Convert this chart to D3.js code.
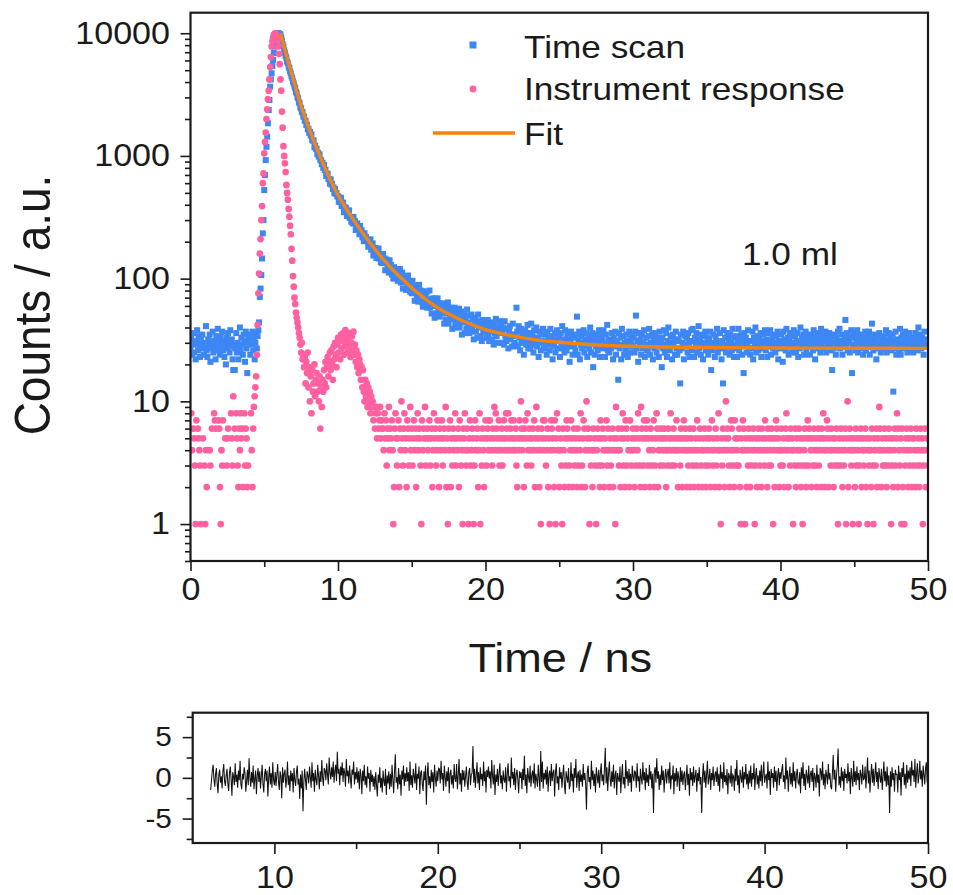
<!DOCTYPE html>
<html>
<head>
<meta charset="utf-8">
<script src="https://cdn.jsdelivr.net/npm/d3@7"></script>
<style>
  html, body { margin: 0; padding: 0; background: #fff; }
  svg { display: block; }
  text { font-family: "Liberation Sans", Arial, Helvetica, sans-serif; fill: #1a1a1a; }
</style>
</head>
<body>
<svg id="chart" width="953" height="895"></svg>
<script>
// ---- Decay trace (time scan), counts per 0.05 ns channel from 0 ns ----
const scanStart = 0, scanStep = 0.05;
const scanCounts = [
  27, 33, 24, 30, 36, 25, 29, 22, 31, 38, 26, 34, 29, 23, 32, 27, 35, 30, 24, 28,
  28, 41, 26, 23, 32, 29, 35, 21, 27, 30, 37, 25, 31, 28, 22, 34, 26, 39, 29, 32,
  24, 34, 28, 37, 26, 31, 23, 29, 20, 33, 27, 36, 30, 25, 38, 28, 32, 22, 18, 29,
  18, 27, 36, 25, 30, 22, 28, 40, 26, 33, 29, 24, 35, 31, 21, 37, 27, 17, 30, 34,
  31, 24, 35, 29, 37, 26, 33, 22, 30, 36, 27, 34,
  38, 44, 71, 83, 107, 146, 234, 300, 527, 699, 925, 1188, 1436, 1844, 2367,
  2857, 3666, 4200, 4720, 5400, 6054, 6900, 7780, 8600, 9380, 9800, 10000, 10000, 9950, 9850,
  9700, 9250, 8700, 8150, 7800, 7250, 6950, 6550, 6300, 5900, 5700, 5350, 5200, 4900, 4700, 4450, 4300, 4050, 3900, 3680,
  3560, 3330, 3240, 3020, 2950, 2740, 2680, 2490, 2440, 2290, 2260, 2100, 2090, 1940, 1930, 1790, 1790, 1650,
  1667, 1541, 1573, 1465, 1494, 1345, 1338, 1332, 1179, 1213, 1145, 1144, 1033, 1061, 987, 1029, 932, 920, 857, 882,
  800, 843, 767, 774, 686, 719, 712, 648, 648, 594, 644, 586, 591, 538, 553, 498, 537, 492, 499, 469,
  469, 423, 459, 420, 455, 390, 402, 417, 348, 383, 361, 375, 324, 353, 322, 360, 313, 318, 291, 319,
  283, 318, 281, 294, 249, 278, 282, 250, 258, 230, 269, 239, 248, 217, 234, 202, 234, 207, 218, 203,
  206, 182, 207, 185, 209, 172, 182, 194, 154, 178, 166, 177, 147, 167, 150, 176, 146, 152, 136, 157,
  134, 159, 136, 146, 117, 138, 143, 122, 129, 112, 141, 121, 129, 108, 122, 100, 124, 107, 116, 106,
  112, 96, 114, 101, 120, 93, 102, 112, 83, 102, 94, 104, 81, 98, 85, 106, 84, 89, 78, 94,
  76, 96, 79, 88, 66, 83, 88, 72, 79, 65, 89, 73, 80, 65, 76, 59, 79, 66, 74, 66,
  77, 58, 67, 61, 80, 58, 68, 52, 69, 60, 65, 48, 69, 60, 52, 69, 54, 63, 49, 58,
  54, 60, 52, 63, 43, 57, 46, 59, 52, 64, 43, 53, 47, 58, 53, 39, 54, 47, 58, 43,
  50, 40, 53, 44, 57, 40, 47, 54, 35, 49, 44, 51, 36, 48, 39, 56, 40, 44, 36, 50,
  37, 51, 40, 47, 32, 44, 48, 37, 42, 33, 51, 40, 45, 34, 43, 31, 46, 37, 42, 37,
  43, 33, 39, 46, 35, 31, 41, 37, 44, 32, 38, 29, 42, 36, 47, 34, 40, 30, 37, 45,
  38, 42, 30, 36, 40, 29, 45, 34, 31, 39, 33, 27, 37, 41, 32, 35, 28, 43, 34, 30,
  35, 29, 58, 37, 28, 41, 33, 26, 39, 31, 36, 30, 24, 34, 38, 29, 32, 42, 27, 35,
  36, 27, 43, 30, 34, 25, 38, 32, 29, 40, 28, 33, 23, 37, 31, 26, 35, 30, 39, 27,
  27, 35, 31, 24, 37, 29, 33, 26, 39, 30, 34, 22, 32, 28, 36, 25, 31, 38, 27, 33,
  34, 23, 36, 29, 41, 27, 32, 25, 38, 30, 26, 35, 28, 33, 21, 31, 37, 29, 24, 34,
  28, 33, 26, 35, 49, 24, 31, 37, 22, 29, 34, 27, 30, 38, 25, 32, 28, 36, 23, 31,
  34, 27, 40, 25, 31, 36, 19, 33, 24, 30, 28, 35, 26, 32, 38, 23, 29, 34, 27, 31,
  38, 28, 23, 35, 29, 42, 26, 32, 25, 31, 27, 36, 30, 22, 33, 28, 37, 24, 31, 29,
  15, 36, 27, 33, 22, 39, 29, 34, 24, 30, 26, 35, 31, 23, 28, 37, 25, 32, 29, 34,
  28, 33, 25, 37, 50, 27, 31, 21, 36, 29, 32, 24, 35, 27, 30, 38, 23, 29, 33, 26,
  26, 34, 39, 24, 30, 28, 35, 22, 32, 27, 36, 29, 25, 33, 31, 23, 37, 28, 30, 19,
  33, 27, 38, 25, 29, 36, 23, 31, 40, 28, 26, 34, 30, 22, 35, 29, 32, 24, 37, 27,
  24, 32, 31, 26, 14, 35, 27, 30, 37, 22, 29, 34, 28, 33, 25, 36, 30, 23, 31, 38,
  26, 39, 31, 23, 33, 28, 36, 25, 30, 41, 27, 32, 24, 35, 29, 22, 34, 30, 37, 26,
  27, 33, 24, 32, 29, 37, 18, 26, 30, 35, 28, 23, 34, 31, 39, 25, 30, 27, 36, 29,
  22, 31, 14, 38, 27, 33, 25, 29, 36, 28, 32, 24, 35, 30, 26, 39, 29, 23, 33, 27,
  34, 23, 30, 39, 26, 32, 28, 35, 24, 31, 17, 36, 29, 33, 25, 30, 38, 27, 31, 24,
  31, 27, 37, 22, 33, 29, 40, 25, 30, 34, 26, 32, 28, 36, 23, 31, 35, 27, 30, 38,
  26, 32, 23, 36, 28, 31, 38, 24, 29, 33, 27, 35, 30, 25, 34, 28, 37, 22, 31, 29,
  27, 35, 30, 21, 37, 28, 32, 26, 39, 29, 33, 24, 31, 36, 28, 25, 34, 30, 38, 27,
  34, 25, 31, 36, 23, 30, 27, 40, 28, 33, 29, 35, 24, 32, 37, 26, 30, 28, 34, 31,
  24, 35, 29, 32, 26, 38, 30, 22, 34, 27, 31, 36, 28, 33, 25, 39, 29, 32, 27, 35,
  31, 37, 25, 33, 28, 30, 36, 29, 32, 26, 18, 34, 27, 35, 30, 24, 33, 28, 37, 31,
  39, 27, 30, 35, 24, 31, 28, 33, 46, 29, 36, 26, 32, 30, 25, 34, 38, 17, 28, 33,
  29, 36, 26, 32, 38, 25, 30, 34, 27, 31, 35, 28, 24, 33, 30, 37, 26, 32, 29, 34,
  37, 24, 30, 29, 43, 33, 26, 35, 28, 31, 22, 34, 30, 27, 36, 29, 25, 33, 31, 28,
  34, 27, 30, 38, 25, 32, 29, 36, 28, 33, 26, 31, 35, 12, 30, 27, 37, 24, 32, 29,
  31, 26, 39, 24, 33, 29, 35, 27, 30, 37, 28, 32, 25, 34, 30, 36, 26, 31, 29, 33,
  25, 32, 28, 36, 30, 34, 26, 40, 29, 31, 35, 27, 33, 30, 24, 37, 28, 32, 29, 31,
  30
];

// ---- Instrument response, counts per 0.05 ns channel from 0 ns (zero counts are not drawn on the log axis) ----
const irfStart = 0, irfStep = 0.05;
const irfCounts = [
  0, 8, 4, 0, 6, 5, 3, 1, 7, 0,
  6, 5, 4, 3, 1, 0, 0, 5, 0, 3,
  1, 4, 2, 0, 0, 0, 4, 3, 0, 6,
  0, 0, 8, 7, 6, 0, 0, 0, 7, 6,
  2, 1, 4, 3, 7, 0, 0, 5, 0, 3,
  5, 6, 0, 0, 0, 8, 5, 3, 11, 0,
  6, 0, 8, 5, 3, 2, 6, 4, 8, 5,
  6, 2, 0, 8, 3, 6, 5, 2, 3, 0,
  0, 0, 8, 4, 2, 6, 9,
  11, 13, 16, 24, 42, 76, 110, 160, 210, 300, 390, 600, 720, 1050,
  1300, 1550, 2000, 2400, 2900, 3400, 4200, 5300, 6400, 7800,
  8600, 9200, 9700, 9900, 10000, 9800, 9600,
  8800, 7800, 6800, 5600, 4200, 3400, 2300, 1700, 1200, 1000,
  870, 740, 580, 500, 440, 370, 320, 270, 230, 175,
  140, 105, 86, 70, 62, 53, 48, 44, 40, 36,
  33, 29, 25, 30, 22, 24, 19,
  23, 14, 21, 17, 25, 13, 19, 10, 16, 8,
  18, 12, 14, 20, 11, 15, 17, 12, 14, 10,
  16, 6, 13, 9, 15, 12, 18, 14, 21, 13,
  19, 23, 16, 21, 25, 18, 26, 20, 15, 28,
  22, 30, 24, 19, 29, 33, 25, 31, 22, 35,
  27, 32, 36, 24, 30, 38, 28, 33, 25, 31,
  36, 27, 23, 30, 34, 26, 37, 24, 29, 21,
  26, 19, 24, 17, 22, 20, 15, 19, 13, 18,
  12, 10, 15, 11, 14, 9, 13, 10, 12, 8,
  11, 9, 10, 7, 9, 6, 8, 9, 5, 8,
  6, 7, 9, 5, 7, 6,
  6, 4, 8, 5, 7, 3, 6, 5, 9, 4, 6, 5, 7, 4, 1, 2, 6, 8, 5, 3,
  5, 7, 2, 6, 4, 10, 5, 3, 6, 8, 4, 5, 2, 7, 6, 3, 5, 9, 4, 6,
  3, 5, 7, 4, 6, 2, 5, 8, 4, 6, 5, 3, 1, 7, 4, 6, 5, 9, 3, 5,
  6, 4, 5, 7, 3, 5, 6, 2, 4, 8, 5, 6, 3, 4, 7, 5, 2, 6, 4, 5,
  7, 3, 5, 6, 4, 9, 2, 5, 1, 6, 4, 7, 2, 5, 3, 6, 4, 5, 8, 3,
  5, 4, 6, 2, 7, 5, 3, 4, 1, 6, 5, 8, 4, 3, 6, 4, 1, 5, 7, 3,
  4, 6, 5, 1, 3, 7, 4, 5, 6, 2, 4, 8, 1, 5, 3, 6, 4, 2, 5, 7,
  3, 5, 6, 4, 7, 7, 5, 4, 3, 6, 5, 9, 4, 8, 6, 5, 4, 7, 3, 5,
  4, 6, 3, 5, 7, 4, 5, 8, 6, 4, 8, 5, 4, 6, 7, 5, 4, 7, 5, 4,
  6, 3, 2, 5, 4, 7, 5, 10, 6, 4, 5, 2, 6, 7, 5, 3, 8, 4, 6, 5,
  4, 3, 5, 6, 4, 7, 2, 5, 9, 4, 6, 5, 2, 4, 1, 6, 5, 7, 4, 7,
  5, 3, 4, 6, 2, 5, 1, 4, 7, 6, 5, 4, 2, 7, 1, 5, 8, 4, 6, 2,
  4, 5, 3, 1, 6, 4, 2, 5, 3, 7, 6, 5, 2, 3, 4, 7, 5, 2, 4, 6,
  3, 5, 4, 2, 6, 3, 5, 4, 8, 2, 3, 5, 7, 6, 2, 4, 10, 5, 6, 4,
  1, 5, 3, 4, 2, 6, 4, 5, 3, 1, 4, 6, 5, 3, 2, 7, 5, 3, 6, 4,
  2, 5, 4, 7, 3, 6, 4, 2, 5, 3, 4, 6, 2, 5, 4, 1, 9, 5, 4, 6,
  3, 4, 2, 5, 6, 8, 3, 5, 2, 7, 6, 3, 5, 4, 2, 7, 4, 3, 5, 6,
  4, 2, 5, 3, 6, 4, 8, 5, 3, 2, 9, 6, 5, 3, 7, 2, 5, 6, 7, 3,
  5, 4, 2, 6, 3, 5, 4, 7, 2, 3, 5, 8, 6, 2, 4, 5, 3, 6, 4, 5,
  3, 6, 4, 5, 2, 4, 3, 6, 5, 4, 8, 3, 5, 4, 6, 3, 4, 5, 7, 4,
  2, 5, 4, 3, 6, 5, 2, 4, 7, 5, 6, 4, 2, 5, 3, 4, 6, 2, 5, 4,
  3, 6, 2, 4, 5, 3, 7, 4, 2, 5, 6, 3, 4, 2, 5, 4, 6, 3, 2, 5,
  4, 3, 6, 5, 2, 4, 7, 3, 5, 4, 2, 6, 3, 5, 4, 8, 2, 4, 1, 5,
  3, 6, 4, 2, 5, 10, 4, 6, 5, 3, 2, 4, 7, 6, 3, 4, 2, 7, 5, 3,
  4, 5, 3, 6, 2, 1, 5, 4, 7, 6, 4, 1, 5, 2, 4, 3, 6, 5, 2, 4,
  3, 5, 6, 4, 1, 3, 5, 2, 4, 6, 5, 3, 4, 2, 6, 5, 4, 3, 7, 5,
  4, 2, 6, 3, 5, 4, 3, 6, 5, 1, 4, 2, 5, 7, 6, 4, 5, 2, 4, 3,
  6, 4, 3, 5, 2, 4, 6, 8, 5, 4, 2, 5, 3, 6, 4, 5, 1, 4, 3, 6,
  2, 5, 4, 3, 6, 4, 5, 2, 3, 1, 5, 4, 6, 3, 2, 5, 7, 3, 6, 5,
  4, 2, 5, 3, 6, 4, 3, 5, 2, 4, 6, 3, 5, 4, 2, 6, 5, 8, 4, 2,
  5, 4, 7, 6, 2, 5, 4, 3, 6, 4, 5, 2, 3, 5, 4, 6, 3, 1, 4, 5,
  3, 6, 4, 2, 5, 3, 4, 6, 1, 5, 10, 2, 4, 6, 5, 3, 4, 1, 5, 4,
  2, 6, 3, 5, 4, 1, 3, 5, 6, 2, 4, 5, 3, 4, 6, 2, 5, 1, 4, 3,
  5, 4, 2, 6, 3, 1, 5, 4, 3, 6, 2, 5, 4, 9, 6, 4, 2, 5, 3, 4,
  6, 3, 5, 2, 4, 3, 6, 5, 4, 1, 3, 5, 2, 4, 6, 3, 5, 8, 2, 6,
  4, 3, 5, 1, 6, 2, 4, 1, 3, 5, 6, 4, 2, 5, 3, 4, 6, 2, 5, 3,
  5, 4, 2, 6, 3, 4, 5, 2, 3, 6, 4, 5, 1, 3, 4, 6, 2, 5, 4, 3
];

// ---- Fitted decay curve (knots) ----
const fitTime = [6.1, 6.5, 7.0, 7.5, 8.0, 8.5, 9.0, 9.5, 10, 10.5, 11, 11.5, 12, 12.5, 13, 13.5,
                 14, 14.5, 15, 15.5, 16, 17, 18, 19, 20, 21, 22, 23, 24, 25, 27, 30, 35, 40, 45, 50];
const fitCounts = [10000, 6600, 4100, 2550, 1720, 1200, 860, 630, 480, 380, 308, 252, 208, 174, 147, 126,
                   109, 96, 84, 75, 67, 55.5, 48, 42.5, 38.5, 35.8, 33.8, 32.3, 31.1, 30.3, 29.1, 28.1, 27.5, 27.2, 27.1, 27.0];

// ---- Weighted residuals, 0.05 ns channels from 6.1 ns ----
const residStart = 6.1, residStep = 0.05;
const residuals = [
  -1.5, -0.3, 0.9, 1.6, -0.2, -1.1, 0.5, 1.2, -0.8, -1.9, 0.4, 1.0, -0.6, 0.2, -1.3, 0.8, 1.7, -0.4, -1.0, 0.3,
  1.1, -0.7, -1.6, 0.6, 1.4, -0.1, -2.2, 0.7, 0.2, -0.9, 1.8, -0.5, 0.4, -1.2, 0.9, -0.3, 2.1, -0.8, -1.4, 0.5,
  -0.2, 1.3, 0.6, -1.7, -0.4, 1.0, -0.9, 2.4, 0.1, -1.1, 0.7, -0.6, 1.5, -1.4, -0.1, 0.9, -2.0, 0.3, 1.2, -0.5,
  0.8, -1.3, 0.2, 1.6, -0.7, -1.8, 0.5, 1.1, -0.4, 0.9, -2.3, 0.0, 1.4, -0.8, 0.6, -1.2, 1.9, -0.3, -0.9, 0.7,
  -1.0, 0.4, 1.7, -0.5, -1.5, 0.8, 0.2, -2.5, 1.3, -0.6, 0.5, 1.0, -1.2, -0.2, 2.0, -0.9, 0.3, -1.6, 0.9, -0.4,
  0.6, -1.8, 1.2, -0.3, -1.0, 0.7, 1.5, -0.8, -0.1, -2.6, 0.4, -1.3, 0.9, -4.1, -0.6, 1.1, -0.2, -1.5, 0.8, 0.3,
  -0.7, 1.4, 0.1, -1.2, 1.9, -0.4, 0.6, -1.7, 1.0, -0.2, -0.9, 1.6, 0.3, -1.4, 0.8, -0.5, 2.2, 0.0, -1.0, 1.2,
  0.9, -0.3, 1.8, 0.4, -0.8, 2.5, 0.7, -0.2, 1.3, 0.1, 2.0, -0.6, 0.8, 1.6, -0.4, 3.2, 0.5, 1.1, -0.9, 1.4,
  0.3, 1.9, -0.5, 1.2, 0.6, -1.1, 2.3, 0.2, 0.9, -0.7, 1.5, 0.0, -1.3, 1.0, 0.4, 2.0, -0.8, 0.7, -0.2, 1.3,
  -0.6, 0.8, -1.4, 1.1, 0.3, -2.0, 0.9, -0.4, 1.6, -0.9, 0.2, -1.2, 1.4, -0.1, 0.6, -1.7, 1.0, -0.5, 0.4, -1.1,
  0.2, -1.5, 0.7, -0.9, -2.3, 0.4, -0.6, 1.3, -1.2, 0.0, -1.8, 0.9, -0.4, -1.0, 1.1, -2.1, 0.3, -0.7, 0.8, -1.4,
  0.5, -1.1, 1.6, -0.3, -1.9, 0.8, 2.9, -0.6, 0.1, -1.4, 1.2, -0.8, 0.4, -2.2, 0.9, -0.2, 1.5, -1.0, 0.6, -0.5,
  1.3, -0.4, 0.7, -1.6, 2.0, -0.9, 0.3, -1.2, 1.1, 0.2, -0.7, 1.8, -1.5, 0.5, -0.1, 1.4, -2.0, 0.6, 0.9, -0.8,
  -1.6, 0.8, -0.3, 1.5, -3.3, 0.4, 1.9, -0.9, 0.2, -1.3, 1.0, -0.5, 0.7, -1.8, 1.6, 0.0, -1.1, 0.9, -0.4, 1.2,
  1.1, -0.7, 2.1, -0.2, 0.6, -1.6, 1.5, 0.1, -1.1, 0.8, -0.4, 1.3, -1.9, 0.5, 1.0, -0.8, 0.3, -1.3, 1.7, -0.1,
  -0.5, 1.7, -1.4, 0.3, 2.3, -0.8, 0.6, -1.7, 1.0, -0.3, 0.9, -1.1, 0.2, 1.4, -0.6, -1.5, 0.7, 1.2, -0.9, 0.4,
  0.6, 3.9, -0.6, 1.1, -1.2, 0.3, 1.9, -0.7, 0.7, -1.5, 1.3, -0.2, 0.5, -1.0, 2.0, -0.4, 0.8, -1.8, 1.0, 0.1,
  1.4, -0.1, 0.8, -1.3, 2.2, 0.2, -0.8, 1.6, -2.1, 0.4, -0.5, 1.1, -1.0, 0.6, 1.8, -0.7, 0.3, -1.4, 0.9, -0.2,
  -0.6, 1.3, -1.7, 0.5, 1.8, -0.4, 0.2, -1.2, 2.5, -0.1, 0.7, -0.9, 1.2, -1.5, 0.4, 1.0, -0.3, -1.9, 0.8, 0.0,
  0.7, -1.4, 1.1, -0.3, 2.7, -1.0, 0.4, -1.9, 1.2, 0.1, -0.6, 1.5, -1.1, 0.3, 0.9, -0.7, 1.8, -1.3, 0.5, -0.2,
  -1.1, 1.6, 0.0, -1.6, 3.3, -0.5, 2.0, -1.3, 0.6, -0.2, 1.0, -0.8, 1.4, -1.7, 0.4, 0.9, -1.0, 1.7, -0.4, 0.6,
  1.0, -2.3, 0.6, 1.8, -0.7, 0.2, -1.5, 1.3, -0.1, 0.7, -1.2, 0.4, 1.6, -0.9, -2.0, 0.8, 0.1, -0.6, 1.2, -1.4,
  -0.9, 1.9, -0.4, 0.5, -1.8, 1.2, 0.0, 2.3, -1.2, 0.3, 0.8, -1.6, 1.0, -0.5, 0.4, -1.1, 1.7, -0.3, 0.6, -0.8,
  -3.9, 0.8, 1.5, -0.5, 0.1, -1.4, 2.1, -0.3, 0.9, -1.0, 0.5, -1.8, 1.3, 0.2, -0.7, 1.0, -1.2, 0.6, 1.8, -0.4,
  0.4, -0.9, 1.2, 3.7, -0.7, 1.3, -1.6, 0.5, 2.0, -0.2, -1.1, 0.8, -0.5, 1.6, -1.3, 0.3, 0.9, -2.1, 0.6, -0.1,
  -0.5, 1.4, -1.9, 0.3, 1.7, -0.8, 0.1, -1.3, 2.2, -0.1, 0.8, -1.0, 1.1, -0.6, 0.5, -1.7, 1.5, 0.2, -0.4, 0.9,
  0.6, -1.2, 1.8, -0.4, 0.2, -1.7, 1.1, 0.0, -0.8, 1.9, -0.3, 0.7, -1.5, 1.2, -0.6, 0.4, -1.0, 1.6, -0.2, 0.8,
  -1.3, 0.5, -4.3, 0.7, 1.3, -0.6, 2.4, -0.1, 0.8, -1.5, 0.4, -0.9, 1.5, -0.3, 0.9, -1.8, 0.2, 1.1, -0.7, 0.5,
  1.1, -0.7, 1.9, -1.4, 0.3, -0.2, 1.5, -2.0, 0.6, -0.4, 1.2, -1.1, 0.8, 0.0, -1.6, 1.3, -0.5, 0.9, -0.9, 0.4,
  0.8, -1.5, 0.1, 1.6, -0.9, 0.5, -2.2, 1.2, -0.3, 0.7, -1.0, 1.4, -0.6, 0.2, 1.0, -1.7, 0.6, -0.4, 1.3, -0.8,
  0.1, -4.3, 0.2, 1.8, -0.6, 0.9, -1.2, 0.4, 2.1, -0.8, 0.0, 1.1, -1.5, 0.6, -0.3, 1.4, -1.0, 0.3, 0.8, -0.5,
  1.3, -1.0, 0.5, -1.7, 1.6, -0.1, 0.7, -1.3, 1.9, -0.5, 0.3, -0.9, 1.1, -2.0, 0.6, 0.2, -0.7, 1.5, -1.1, 0.4,
  0.2, -1.6, 1.1, -0.4, 2.2, -0.9, 0.3, -1.9, 1.0, 0.1, -0.6, 1.4, -1.2, 0.7, -0.2, 1.7, -0.8, 0.5, -1.4, 0.9,
  -0.7, 1.5, -1.1, 0.6, -0.2, 1.8, -1.5, 0.4, 1.2, -0.8, 0.3, -1.3, 0.9, -0.4, 1.6, -1.0, 0.5, 2.0, -0.6, 0.1,
  0.5, -1.3, 2.0, -0.3, 0.8, -2.1, 1.1, 0.0, 0.6, -1.2, 1.4, -0.5, 0.9, -1.6, 0.3, 1.2, -0.9, 0.7, -0.1, 1.0,
  1.7, -0.5, 0.3, -1.4, 2.5, -0.2, 0.9, -1.7, 0.2, 1.4, -0.8, 0.6, -1.1, 1.9, -0.4, 0.8, -1.3, 0.4, 1.1, -0.6,
  -0.8, 0.7, -1.9, 1.3, -0.1, 1.9, -1.0, 0.5, -1.5, 1.0, 0.2, -0.7, 1.5, -1.2, 0.4, 0.9, -0.5, 1.2, -1.6, 0.6,
  0.1, -1.2, 1.6, -0.6, 0.4, -2.3, 1.2, 0.8, -0.3, 2.0, -0.9, 0.5, -1.4, 1.0, 0.3, -0.8, 1.7, -0.2, 0.6, -1.1,
  -1.4, 0.6, 2.8, -0.2, 1.0, -1.7, 0.3, 1.5, 3.6, -0.9, 0.2, -1.2, 1.3, -0.4, 0.8, -1.6, 1.1, 0.0, 0.5, -0.7,
  1.8, -0.4, 0.7, -2.0, 1.2, 0.0, -1.1, 2.1, -0.5, 0.8, -0.9, 1.4, -0.3, 0.6, -1.5, 1.0, 0.4, -0.8, 1.6, -0.2,
  -0.1, 1.4, -1.3, 0.5, 2.5, -0.7, 0.9, -1.8, 0.3, 1.7, -0.6, 1.1, -1.0, 0.4, 1.9, -0.5, 0.7, -1.4, 1.2, 0.2,
  -0.6, 1.1, -1.5, 0.2, 2.0, -0.4, 0.8, -1.1, 1.4, -0.9, 0.3, -4.3, 0.8, -1.1, 1.3, -0.3, 0.6, -1.7, 1.0, 0.4,
  0.4, -1.8, 1.5, -0.3, 0.7, -2.2, 1.2, 0.1, 1.9, -0.9, 0.5, -1.3, 1.6, -0.6, 0.9, -0.2, 1.3, -1.0, 2.1, 0.3,
  1.0, -0.5, 2.3, -1.2, 0.6, 1.8, -0.7, 0.3, 2.1, -0.2, 0.9, -1.1, 1.5, 0.4, -0.8, 1.2, 1.9, -0.6, 0.7, 0.5
];

// ---- Axis ticks and labels ----
const timeTicks = [0, 10, 20, 30, 40, 50];
const timeMinorTicks = [5, 15, 25, 35, 45];
const countTicks = [1, 10, 100, 1000, 10000];
const residTimeTicks = [10, 20, 30, 40, 50];
const residTimeMinorTicks = [15, 25, 35, 45];
const residTicks = [-5, 0, 5];
const residMinorTicks = [-7.5, -2.5, 2.5, 7.5];
const legendLabels = ["Time scan", "Instrument response", "Fit"];
const sampleLabel = "1.0 ml";
const xTitle = "Time / ns";
const yTitle = "Counts / a.u.";

// ---- Styling ----
const INK = "#1a1a1a";
const BLUE = "#3d87f4";
const PINK = "#ff609f";
const ORANGE = "#f5830f";
const SX = 1.1; // horizontal text stretch

const svg = d3.select("#chart");

// Panel geometry
const main = { left: 190.5, right: 928, top: 12.7, bottom: 561 };
const resid = { left: 192.7, right: 928, top: 712.7, bottom: 843 };

const x = d3.scaleLinear().domain([0, 50]).range([main.left, main.right]);
const y = d3.scaleLog().domain([0.5, 14700]).range([main.bottom, main.top]);
const xr = d3.scaleLinear().domain([5, 50]).range([resid.left, resid.right]);
const yr = d3.scaleLinear().domain([-8, 8]).range([resid.bottom, resid.top]);

// log minor ticks: 2..9 of each decade plus 0.5..0.9
const countMinorTicks = [];
[0.1, 1, 10, 100, 1000].forEach(d => {
  for (let k = 2; k <= 9; k++) {
    const v = d * k;
    if (v >= 0.5 && !countTicks.includes(v)) countMinorTicks.push(v);
  }
});

function stretchText(g, px, py, s, size, anchor) {
  return g.append("text")
    .attr("transform", `translate(${px},${py}) scale(${SX},1)`)
    .attr("font-size", size)
    .attr("text-anchor", anchor || "start")
    .text(s);
}

function styleAxis(g, fontSize) {
  g.select(".domain").remove();
  g.selectAll("line").attr("stroke", INK).attr("stroke-width", 1.6);
  g.selectAll("text")
    .attr("font-size", fontSize)
    .attr("fill", INK)
    .attr("transform", `scale(${SX},1)`);
}

const defs = svg.append("defs");
defs.append("clipPath").attr("id", "clipMain").append("rect")
  .attr("x", main.left).attr("y", main.top)
  .attr("width", main.right - main.left).attr("height", main.bottom - main.top);
defs.append("clipPath").attr("id", "clipResid").append("rect")
  .attr("x", resid.left).attr("y", resid.top)
  .attr("width", resid.right - resid.left).attr("height", resid.bottom - resid.top);

// ---- Main panel data ----
const gMain = svg.append("g");
const gData = gMain.append("g").attr("clip-path", "url(#clipMain)");

const scanPts = scanCounts.map((v, i) => ({ t: scanStart + i * scanStep, v }));
const irfPts = irfCounts.map((v, i) => ({ t: irfStart + i * irfStep, v })).filter(d => d.v > 0);
const fitPts = fitTime.map((t, i) => ({ t, v: fitCounts[i] }));

const SQ = 6;
gData.append("g").selectAll("rect")
  .data(scanPts).join("rect")
  .attr("x", d => x(d.t) - SQ / 2)
  .attr("y", d => y(d.v) - SQ / 2)
  .attr("width", SQ).attr("height", SQ)
  .attr("fill", BLUE);

gData.append("g").selectAll("circle")
  .data(irfPts).join("circle")
  .attr("cx", d => x(d.t))
  .attr("cy", d => y(d.v))
  .attr("r", 3.35)
  .attr("fill", PINK);

gData.append("path")
  .datum(fitPts)
  .attr("fill", "none")
  .attr("stroke", ORANGE)
  .attr("stroke-width", 3.4)
  .attr("d", d3.line().x(d => x(d.t)).y(d => y(d.v)).curve(d3.curveMonotoneX));

// ---- Main axes ----
const axLeft = gMain.append("g").attr("transform", `translate(${main.left},0)`)
  .call(d3.axisLeft(y).tickValues(countTicks).tickFormat(d3.format("d")).tickSize(10).tickPadding(8.6).tickSizeOuter(0));
styleAxis(axLeft, 31);
const axLeftMinor = gMain.append("g").attr("transform", `translate(${main.left},0)`)
  .call(d3.axisLeft(y).tickValues(countMinorTicks).tickFormat("").tickSize(5.5).tickSizeOuter(0));
styleAxis(axLeftMinor, 31);

const axBottom = gMain.append("g").attr("transform", `translate(0,${main.bottom})`)
  .call(d3.axisBottom(x).tickValues(timeTicks).tickSize(10).tickPadding(7).tickSizeOuter(0));
styleAxis(axBottom, 31);
const axBottomMinor = gMain.append("g").attr("transform", `translate(0,${main.bottom})`)
  .call(d3.axisBottom(x).tickValues(timeMinorTicks).tickFormat("").tickSize(6).tickSizeOuter(0));
styleAxis(axBottomMinor, 31);

gMain.append("rect")
  .attr("x", main.left).attr("y", main.top)
  .attr("width", main.right - main.left).attr("height", main.bottom - main.top)
  .attr("fill", "none").attr("stroke", INK).attr("stroke-width", 2.2);

// ---- Titles ----
stretchText(svg, (main.left + main.right) / 2 + 1, 672, xTitle, 41, "middle");
svg.append("text")
  .attr("transform", `translate(50,305) scale(${SX},1) rotate(-90)`)
  .attr("font-size", 46)
  .attr("text-anchor", "middle")
  .text(yTitle);

// ---- Legend ----
const legend = svg.append("g");
legend.append("rect").attr("x", 473 - 3.5).attr("y", 45 - 3.5).attr("width", 7).attr("height", 7).attr("fill", BLUE);
legend.append("circle").attr("cx", 473).attr("cy", 89).attr("r", 3.4).attr("fill", PINK);
legend.append("line").attr("x1", 433).attr("x2", 515).attr("y1", 133).attr("y2", 133)
  .attr("stroke", ORANGE).attr("stroke-width", 3.4);
[58, 100, 145].forEach((by, i) => stretchText(legend, 524, by, legendLabels[i], 32));

stretchText(svg, 742, 265, sampleLabel, 32);

// ---- Residual panel ----
const gRes = svg.append("g");
gRes.append("path")
  .datum(residuals)
  .attr("clip-path", "url(#clipResid)")
  .attr("fill", "none")
  .attr("stroke", "#111")
  .attr("stroke-width", 1.05)
  .attr("d", d3.line().x((d, i) => xr(residStart + i * residStep)).y(d => yr(d)));

const rLeft = gRes.append("g").attr("transform", `translate(${resid.left},0)`)
  .call(d3.axisLeft(yr).tickValues(residTicks).tickFormat(d => String(d)).tickSize(10).tickPadding(9).tickSizeOuter(0));
styleAxis(rLeft, 27);
const rLeftMinor = gRes.append("g").attr("transform", `translate(${resid.left},0)`)
  .call(d3.axisLeft(yr).tickValues(residMinorTicks).tickFormat("").tickSize(6).tickSizeOuter(0));
styleAxis(rLeftMinor, 27);

const rBottom = gRes.append("g").attr("transform", `translate(0,${resid.bottom})`)
  .call(d3.axisBottom(xr).tickValues(residTimeTicks).tickSize(11).tickPadding(12).tickSizeOuter(0));
styleAxis(rBottom, 31);
const rBottomMinor = gRes.append("g").attr("transform", `translate(0,${resid.bottom})`)
  .call(d3.axisBottom(xr).tickValues(residTimeMinorTicks).tickFormat("").tickSize(6).tickSizeOuter(0));
styleAxis(rBottomMinor, 31);

gRes.append("rect")
  .attr("x", resid.left).attr("y", resid.top)
  .attr("width", resid.right - resid.left).attr("height", resid.bottom - resid.top)
  .attr("fill", "none").attr("stroke", INK).attr("stroke-width", 2.2);
</script>
</body>
</html>
